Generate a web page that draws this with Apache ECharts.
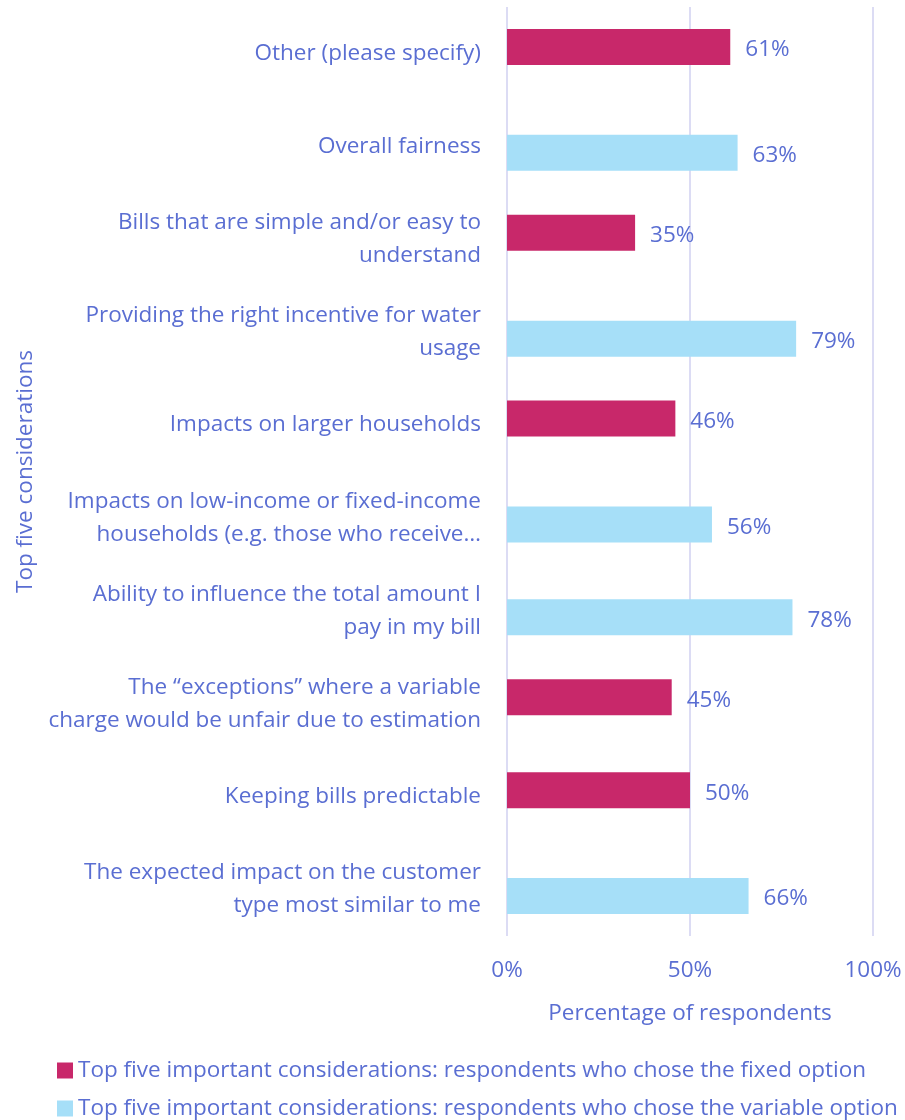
<!DOCTYPE html>
<html>
<head>
<meta charset="utf-8">
<script src="https://cdn.jsdelivr.net/npm/echarts@6/dist/echarts.min.js"></script>
<style>
  html, body { margin: 0; padding: 0; background: #ffffff; }
  #chart { width: 905px; height: 1120px; }
</style>
</head>
<body>
<div id="chart"></div>
<script>
// Survey categories, top to bottom
const categories = [
  'Other (please specify)',
  'Overall fairness',
  'Bills that are simple and/or easy to\nunderstand',
  'Providing the right incentive for water\nusage',
  'Impacts on larger households',
  'Impacts on low-income or fixed-income\nhouseholds (e.g. those who receive…',
  'Ability to influence the total amount I\npay in my bill',
  'The “exceptions” where a variable\ncharge would be unfair due to estimation',
  'Keeping bills predictable',
  'The expected impact on the customer\ntype most similar to me'
];

// Percentage of respondents (null where the option was not in that group's top five)
const fixedValues    = [61, null, 35, null, 46, null, null, 45, 50, null];
const variableValues = [null, 63, null, 79, null, 56, 78, null, null, 66];

const seriesNames = [
  'Top five important considerations: respondents who chose the fixed option',
  'Top five important considerations: respondents who chose the variable option'
];

const xTicks = [0, 50, 100];

const FONT = '"Open Sans", "Noto Sans", sans-serif';
const TEXT = '#5a6ed2';
const FS = 22.5;

const chart = echarts.init(document.getElementById('chart'));

const labelCfg = {
  show: true,
  position: 'right',
  distance: 15,
  offset: [0, 3],
  color: TEXT,
  fontFamily: FONT,
  fontSize: FS,
  formatter: p => p.value + '%'
};

chart.setOption({
  animation: false,
  textStyle: { fontFamily: FONT, color: TEXT },
  grid: { left: 507, right: 32, top: 7, bottom: 184, containLabel: false },
  legend: {
    orient: 'vertical',
    left: 52,
    top: 1054,
    height: 120,
    itemWidth: 16,
    itemHeight: 16,
    itemGap: 15,
    icon: 'rect',
    textStyle: { color: TEXT, fontFamily: FONT, fontSize: FS },
    data: seriesNames
  },
  xAxis: {
    type: 'value',
    min: xTicks[0],
    max: xTicks[xTicks.length - 1],
    interval: 50,
    name: 'Percentage of respondents',
    nameLocation: 'middle',
    nameGap: 66,
    nameTextStyle: { color: TEXT, fontFamily: FONT, fontSize: FS },
    axisLine: { show: false },
    axisTick: { show: false },
    axisLabel: {
      color: TEXT, fontFamily: FONT, fontSize: FS, margin: 23,
      formatter: v => v + '%'
    },
    splitLine: { show: true, lineStyle: { color: '#dcdcf4', width: 2 } }
  },
  yAxis: {
    type: 'category',
    inverse: true,
    data: categories,
    name: 'Top five considerations',
    nameLocation: 'middle',
    nameGap: 470,
    nameRotate: 90,
    nameTextStyle: { color: TEXT, fontFamily: FONT, fontSize: FS },
    axisLine: { show: false },
    axisTick: { show: false },
    axisLabel: {
      color: TEXT, fontFamily: FONT, fontSize: FS, margin: 26,
      lineHeight: 33, align: 'right'
    },
    splitLine: { show: false }
  },
  series: [
    {
      name: seriesNames[0],
      type: 'bar',
      data: fixedValues,
      barWidth: 36,
      barGap: '-64%',
      itemStyle: { color: '#c8286a' },
      label: labelCfg
    },
    {
      name: seriesNames[1],
      type: 'bar',
      data: variableValues,
      barWidth: 36,
      barGap: '-64%',
      itemStyle: { color: '#a6dff8' },
      label: labelCfg
    }
  ]
});
</script>
</body>
</html>
